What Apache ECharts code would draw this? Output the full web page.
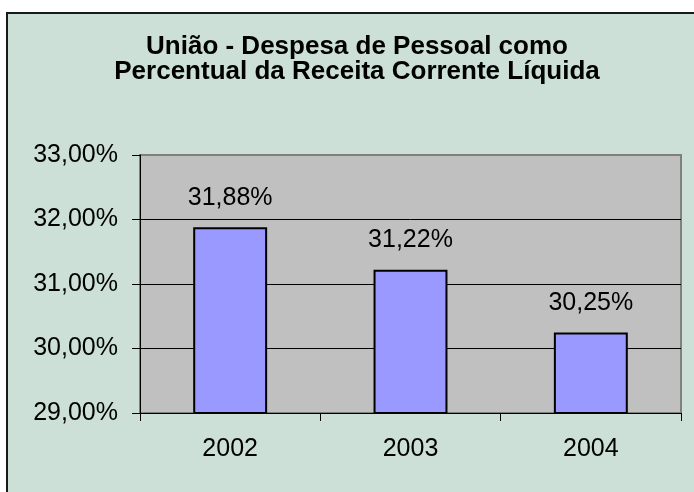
<!DOCTYPE html>
<html>
<head>
<meta charset="utf-8">
<script src="https://cdn.jsdelivr.net/npm/echarts@6/dist/echarts.min.js"></script>
<style>
  html, body { margin: 0; padding: 0; background: #fff; overflow: hidden; }
  #wrap { position: relative; width: 694px; height: 492px; overflow: hidden; }
  /* chart-area frame, runs off the right and bottom edges like the original */
  #frame { position: absolute; left: 6px; top: 12px; width: 720px; height: 520px;
           border: 2px solid #1a1a1a; background: #cce0d8; }
  #chart { position: absolute; left: 0; top: 0; width: 694px; height: 492px; }
</style>
</head>
<body>
<div id="wrap">
  <div id="frame"></div>
  <div id="chart"></div>
</div>
<script>
// Data
const years = ['2002', '2003', '2004'];
const pessoalPct = [31.88, 31.22, 30.25];
const yTicks = [29, 30, 31, 32, 33];

const fmtPct = (v) => v.toFixed(2).replace('.', ',') + '%';
const FONT = 'Liberation Sans, Arial, sans-serif';

const chart = echarts.init(document.getElementById('chart'), null, { renderer: 'canvas' });

chart.setOption({
    backgroundColor: 'transparent',
    animation: false,
    textStyle: { fontFamily: FONT, color: '#000' },
    title: {
        text: 'União - Despesa de Pessoal como\nPercentual da Receita Corrente Líquida',
        left: 352,
        top: 29,
        textAlign: 'center',
        textStyle: { fontFamily: FONT, fontSize: 26, fontWeight: 'bold', lineHeight: 25, color: '#000' },
    },
    grid: {
        left: 140, right: 13, top: 155, bottom: 79,
        show: true, backgroundColor: '#c0c0c0', borderColor: '#808080', borderWidth: 2,
    },
    xAxis: {
        type: 'category',
        data: years,
        axisLine: { lineStyle: { color: '#000', width: 1 } },
        axisTick: { show: true, length: 8, lineStyle: { color: '#000' } },
        axisLabel: { fontSize: 25, color: '#000', margin: 24 },
    },
    yAxis: {
        type: 'value',
        min: yTicks[0],
        max: yTicks[yTicks.length - 1],
        interval: 1,
        axisLine: { show: true, lineStyle: { color: '#000', width: 1 } },
        axisTick: { show: true, length: 8, lineStyle: { color: '#000' } },
        axisLabel: { fontSize: 25, color: '#000', margin: 22, formatter: fmtPct },
        splitLine: { show: true, showMinLine: false, showMaxLine: false, lineStyle: { color: '#000', width: 1 } },
    },
    series: [{
        type: 'bar',
        data: pessoalPct,
        barWidth: '41%',
        itemStyle: { color: '#9999ff', borderColor: '#000', borderWidth: 2 },
        label: {
            show: true, position: 'top', distance: 17,
            fontSize: 25, color: '#000', formatter: (p) => fmtPct(p.value),
        },
    }],
});
</script>
</body>
</html>
